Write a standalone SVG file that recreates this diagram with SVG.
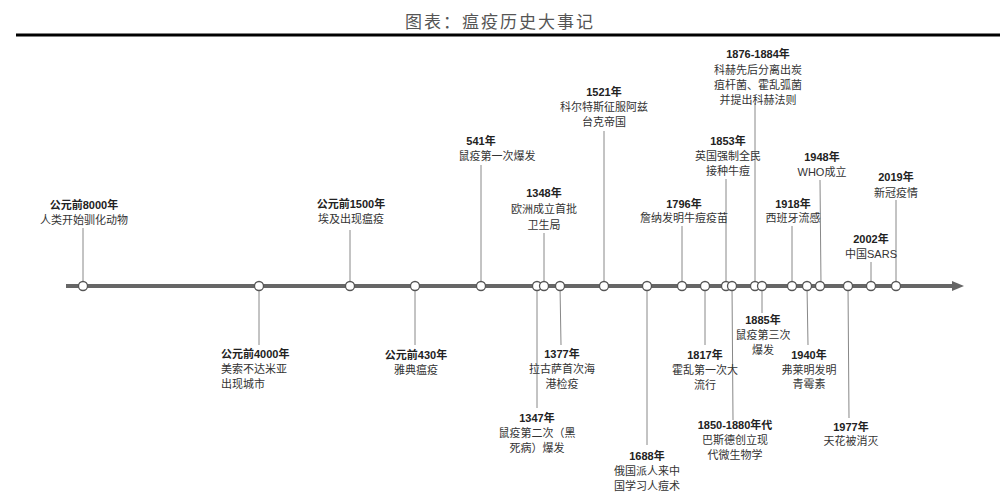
<svg xmlns="http://www.w3.org/2000/svg" width="1000" height="492" viewBox="0 0 1000 492">
<style>
text{font-family:"Liberation Sans","Noto Sans CJK SC",sans-serif;font-size:11px;fill:#333;text-anchor:middle}
.y{font-weight:bold;fill:#222}
.t{font-family:"Liberation Serif","Noto Sans CJK SC",serif;font-size:17px;fill:#555;letter-spacing:2px}
.c line{stroke:#888;stroke-width:1}
circle{fill:#fff;stroke:#555;stroke-width:1.3}
</style>
<defs><marker id="ah" markerWidth="12" markerHeight="10" refX="2" refY="5" orient="auto" markerUnits="userSpaceOnUse"><path d="M0,0L12,5L0,10z" fill="#666"/></marker></defs>
<text class="t" x="500" y="28">图表：瘟疫历史大事记</text>
<line x1="16" y1="35" x2="1000" y2="35" stroke="#000" stroke-width="3"/>
<g class="c" id="connectors">
<line x1="66" y1="286" x2="954" y2="286" stroke="#666" stroke-width="4" marker-end="url(#ah)" style="stroke:#666;stroke-width:4"/>
<line x1="83" y1="228" x2="83" y2="285"/><line x1="350" y1="230" x2="350" y2="285"/><line x1="481" y1="165" x2="481" y2="285"/>
<line x1="544" y1="233" x2="544" y2="285"/><line x1="604" y1="131" x2="604" y2="285"/><line x1="682" y1="226" x2="682" y2="285"/>
<line x1="726" y1="179" x2="726" y2="285"/><line x1="755" y1="103" x2="755" y2="285"/><line x1="792" y1="226" x2="792" y2="285"/>
<line x1="820" y1="180" x2="821" y2="285"/><line x1="871" y1="262" x2="871" y2="285"/><line x1="896" y1="200" x2="896" y2="285"/>
<line x1="259" y1="286" x2="259" y2="345"/><line x1="415" y1="286" x2="415" y2="345"/><line x1="537" y1="286" x2="537" y2="408"/>
<line x1="560" y1="286" x2="561" y2="345"/><line x1="647" y1="286" x2="647" y2="445"/><line x1="705" y1="286" x2="705" y2="345"/>
<line x1="732" y1="286" x2="733" y2="420"/><line x1="762" y1="286" x2="762" y2="313"/><line x1="807" y1="286" x2="808" y2="345"/>
<line x1="848" y1="286" x2="849" y2="418"/>
</g>
<g id="n1"><circle cx="83" cy="286" r="4.5"/><text class="y" x="84" y="209">公元前8000年</text><text x="84" y="224">人类开始驯化动物</text></g>
<g id="n2"><circle cx="259" cy="286" r="4.5"/><text class="y" x="221" y="358" style="text-anchor:start">公元前4000年</text><text x="221" y="373" style="text-anchor:start">美索不达米亚</text><text x="221" y="388" style="text-anchor:start">出现城市</text></g>
<g id="n3"><circle cx="350" cy="286" r="4.5"/><text class="y" x="351" y="208">公元前1500年</text><text x="351" y="223">埃及出现瘟疫</text></g>
<g id="n4"><circle cx="415" cy="286" r="4.5"/><text class="y" x="416" y="359">公元前430年</text><text x="416" y="374">雅典瘟疫</text></g>
<g id="n5"><circle cx="481" cy="286" r="4.5"/><text class="y" x="481" y="145">541年</text><text x="497" y="160">鼠疫第一次爆发</text></g>
<g id="n6"><circle cx="537" cy="286" r="4.5"/><text class="y" x="537" y="422">1347年</text><text x="537" y="437">鼠疫第二次（黑</text><text x="537" y="452">死病）爆发</text></g>
<g id="n7"><circle cx="544" cy="286" r="4.5"/><text class="y" x="544" y="197">1348年</text><text x="544" y="213">欧洲成立首批</text><text x="544" y="229">卫生局</text></g>
<g id="n8"><circle cx="560" cy="286" r="4.5"/><text class="y" x="562" y="358">1377年</text><text x="562" y="373">拉古萨首次海</text><text x="562" y="388">港检疫</text></g>
<g id="n9"><circle cx="604" cy="286" r="4.5"/><text class="y" x="604" y="96">1521年</text><text x="604" y="111">科尔特斯征服阿兹</text><text x="604" y="126">台克帝国</text></g>
<g id="n10"><circle cx="647" cy="286" r="4.5"/><text class="y" x="647" y="460">1688年</text><text x="647" y="475">俄国派人来中</text><text x="647" y="490">国学习人痘术</text></g>
<g id="n11"><circle cx="682" cy="286" r="4.5"/><text class="y" x="684" y="208">1796年</text><text x="684" y="222">詹纳发明牛痘疫苗</text></g>
<g id="n12"><circle cx="705" cy="286" r="4.5"/><text class="y" x="705" y="359">1817年</text><text x="705" y="374">霍乱第一次大</text><text x="705" y="389">流行</text></g>
<g id="n13"><circle cx="726" cy="286" r="4.5"/><text class="y" x="728" y="145">1853年</text><text x="728" y="160">英国强制全民</text><text x="728" y="175">接种牛痘</text></g>
<g id="n14"><circle cx="732" cy="286" r="4.5"/><text class="y" x="735" y="429">1850-1880年代</text><text x="735" y="444">巴斯德创立现</text><text x="735" y="459">代微生物学</text></g>
<g id="n15"><circle cx="755" cy="286" r="4.5"/><text class="y" x="758" y="58">1876-1884年</text><text x="758" y="74">科赫先后分离出炭</text><text x="758" y="89">疽杆菌、霍乱弧菌</text><text x="758" y="104">并提出科赫法则</text></g>
<g id="n16"><circle cx="762" cy="286" r="4.5"/><text class="y" x="763" y="324">1885年</text><text x="763" y="339">鼠疫第三次</text><text x="763" y="354">爆发</text></g>
<g id="n17"><circle cx="792" cy="286" r="4.5"/><text class="y" x="793" y="208">1918年</text><text x="793" y="222">西班牙流感</text></g>
<g id="n18"><circle cx="807" cy="286" r="4.5"/><text class="y" x="809" y="359">1940年</text><text x="809" y="374">弗莱明发明</text><text x="809" y="388">青霉素</text></g>
<g id="n19"><circle cx="820" cy="286" r="4.5"/><text class="y" x="822" y="161">1948年</text><text x="822" y="176">WHO成立</text></g>
<g id="n20"><circle cx="848" cy="286" r="4.5"/><text class="y" x="851" y="431">1977年</text><text x="851" y="445">天花被消灭</text></g>
<g id="n21"><circle cx="871" cy="286" r="4.5"/><text class="y" x="871" y="243">2002年</text><text x="871" y="258">中国SARS</text></g>
<g id="n22"><circle cx="896" cy="286" r="4.5"/><text class="y" x="896" y="181">2019年</text><text x="896" y="197">新冠疫情</text></g>
</svg>
